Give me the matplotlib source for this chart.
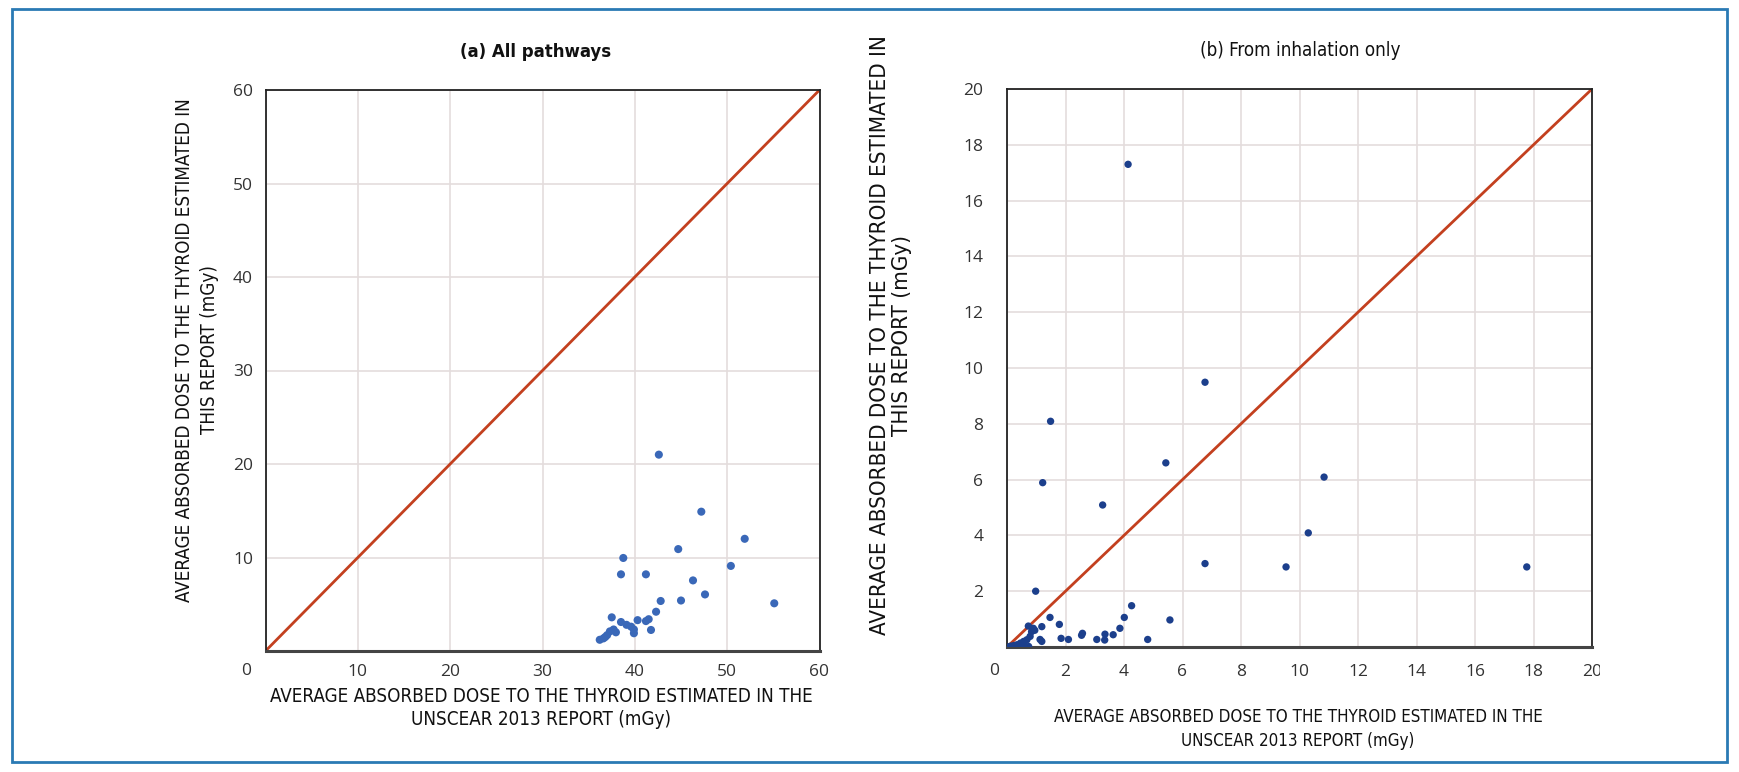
import matplotlib
matplotlib.use("Agg")
import matplotlib.pyplot as plt
from matplotlib.patches import Rectangle
from matplotlib import transforms
from matplotlib import font_manager as fm

# ---- data ----
x_all = [42.6, 47.2, 51.9, 44.7, 38.75, 50.4, 38.5, 41.2, 46.3, 47.6, 55.1, 42.8, 45.0,
         42.3, 37.5, 40.3, 41.5, 41.2, 41.75, 38.5, 39.1, 39.6, 39.9, 39.9, 37.7, 37.3,
         37.95, 36.8, 36.2, 36.6, 37.0]
y_all = [21.0, 14.9, 12.0, 10.9, 9.95, 9.1, 8.2, 8.2, 7.55, 6.05, 5.1, 5.35, 5.4,
         4.2, 3.6, 3.3, 3.4, 3.2, 2.25, 3.1, 2.8, 2.6, 2.3, 1.9, 2.3, 2.1,
         2.0, 1.5, 1.2, 1.35, 1.7]

x_inh = [4.14, 6.77, 10.84, 10.3, 6.77, 9.54, 17.77, 1.49, 1.22, 3.27, 5.43, 0.98, 4.26,
         4.01, 5.57, 3.86, 3.63, 3.35, 3.34, 3.07, 2.58, 2.55, 4.81, 1.47, 1.79, 1.85,
         2.1, 1.19, 1.13, 1.19, 0.73, 0.9, 0.84, 0.95, 0.79, 0.68, 0.57, 0.46, 0.34,
         0.74, 0.23, 0.06, 0.12, 0.57]
y_inh = [17.3, 9.49, 6.09, 4.09, 2.99, 2.87, 2.87, 8.09, 5.89, 5.09, 6.6, 2.0, 1.48,
         1.06, 0.97, 0.67, 0.44, 0.46, 0.25, 0.27, 0.49, 0.42, 0.27, 1.06, 0.81, 0.31,
         0.27, 0.73, 0.27, 0.2, 0.75, 0.67, 0.55, 0.6, 0.38, 0.26, 0.2, 0.14, 0.08,
         0.02, 0.05, 0.0, 0.03, 0.08]

ticks_a = [0, 10, 20, 30, 40, 50, 60]
ticks_b = [0, 2, 4, 6, 8, 10, 12, 14, 16, 18, 20]

title_a = "(a) All pathways"
title_b = "(b) From inhalation only"
ylab = "AVERAGE ABSORBED DOSE TO THE THYROID ESTIMATED IN\nTHIS REPORT (mGy)"
xlab = "AVERAGE ABSORBED DOSE TO THE THYROID ESTIMATED IN THE\nUNSCEAR 2013 REPORT (mGy)"

TICK_FONT = ["Open Sans", "DejaVu Sans"]

names = {f.name for f in fm.fontManager.ttflist}
cond = [f for f in fm.fontManager.ttflist
        if f.stretch in ("condensed", "semi-condensed") or "Condensed" in f.fname or "Narrow" in f.fname]
if "Liberation Sans Narrow" in names:
    LAB_FONT = ["Liberation Sans Narrow", "DejaVu Sans"]
    STRETCH = "normal"
    SCALE = 1.0
elif any("DejaVuSansCondensed" in f.fname for f in cond):
    LAB_FONT = ["DejaVu Sans"]
    STRETCH = "condensed"
    SCALE = 1.0
else:
    LAB_FONT = ["DejaVu Sans"]
    STRETCH = "normal"
    SCALE = 0.84

fig = plt.figure(figsize=(17.39, 7.72), dpi=100)
fig.patch.set_facecolor("white")

# blue frame
fig.patches.append(Rectangle((12 / 1739, 1 - 762 / 772), (1727 - 12) / 1739, (762 - 9) / 772,
                             transform=fig.transFigure, fill=False, edgecolor="#2a7ab4",
                             linewidth=2.0))

grid_col = "#e4dddd"
red = "#c3401f"


def style_axes(ax, lim, ticks):
    ax.set_xlim(0, lim)
    ax.set_ylim(0, lim)
    ax.set_xticks(ticks)
    ax.set_yticks(ticks)
    ax.grid(True, color=grid_col, linewidth=1.2)
    ax.set_axisbelow(True)
    ax.tick_params(length=0, labelsize=12.5, colors="#333333", pad=9)
    for lab in ax.get_xticklabels() + ax.get_yticklabels():
        lab.set_fontfamily(TICK_FONT)
    for s in ["left", "top", "right"]:
        ax.spines[s].set_color("#222222")
        ax.spines[s].set_linewidth(1.3)
    ax.spines["bottom"].set_color("#444444")
    ax.spines["bottom"].set_linewidth(2.2)


# ---- left panel ----
axa = fig.add_axes([265.5 / 1739, 1 - 651 / 772, 554 / 1739, 561 / 772])
style_axes(axa, 60, ticks_a)
axa.set_xticklabels([""] + [str(t) for t in ticks_a[1:]])
axa.set_yticklabels([""] + [str(t) for t in ticks_a[1:]])
axa.plot([0, 60], [0, 60], color=red, linewidth=2.0, zorder=2)
axa.scatter(x_all, y_all, s=34, color="#3a68b8", edgecolors="none", zorder=3)
off = transforms.offset_copy(axa.get_xaxis_transform(), fig=fig, x=-19, y=-20, units="dots")
axa.text(0, 0, "0", transform=off, ha="center", va="center", fontsize=12.5,
         color="#333333", family=TICK_FONT)

# ---- right panel ----
axb = fig.add_axes([1007 / 1739, 1 - 647 / 772, 585 / 1739, 558 / 772])
style_axes(axb, 20, ticks_b)
axb.tick_params(axis="y", pad=17)
axb.tick_params(axis="x", pad=12)
axb.set_xticklabels([""] + [str(t) for t in ticks_b[1:]])
axb.set_yticklabels([""] + [str(t) for t in ticks_b[1:]])
axb.plot([0, 20], [0, 20], color=red, linewidth=2.0, zorder=2)
axb.scatter(x_inh, y_inh, s=28, color="#1c3f8c", edgecolors="none", zorder=3)
offb = transforms.offset_copy(axb.get_xaxis_transform(), fig=fig, x=-13, y=-24, units="dots")
axb.text(0, 0, "0", transform=offb, ha="center", va="center", fontsize=12.5,
         color="#333333", family=TICK_FONT)

# the last x tick label is cut at the picture's edge in the original
clip = transforms.Bbox.from_extents(0, 0, 1600, 772)
last = axb.get_xticklabels()[-1]
last.set_clip_box(transforms.TransformedBbox(transforms.Bbox.from_extents(0, 0, 1600 / 1739, 1), fig.transFigure))
last.set_clip_on(True)

# ---- texts ----
kw = dict(family=LAB_FONT, stretch=STRETCH, color="#111111")
fig.text(536 / 1739, 1 - 52 / 772, title_a, ha="center", va="center", fontsize=13.3 * SCALE,
         fontweight="bold", **kw)
fig.text(1300 / 1739, 1 - 51 / 772, title_b, ha="center", va="center", fontsize=13.5 * SCALE,
         **kw)

fig.text(197 / 1739, 1 - 350 / 772, ylab, rotation=90, ha="center", va="center",
         fontsize=13.5 * SCALE, linespacing=1.4, multialignment="center", **kw)
fig.text(891 / 1739, 1 - 335 / 772, ylab, rotation=90, ha="center", va="center",
         fontsize=16 * SCALE, linespacing=1.15, multialignment="center", **kw)

fig.text(541 / 1739, 1 - 708 / 772, xlab, ha="center", va="center", fontsize=13.5 * SCALE,
         linespacing=1.3, multialignment="center", **kw)
fig.text(1298 / 1739, 1 - 729 / 772, xlab, ha="center", va="center", fontsize=12.2 * SCALE,
         linespacing=1.45, multialignment="center", **kw)

fig.savefig("out.png", dpi=100, facecolor="white")
